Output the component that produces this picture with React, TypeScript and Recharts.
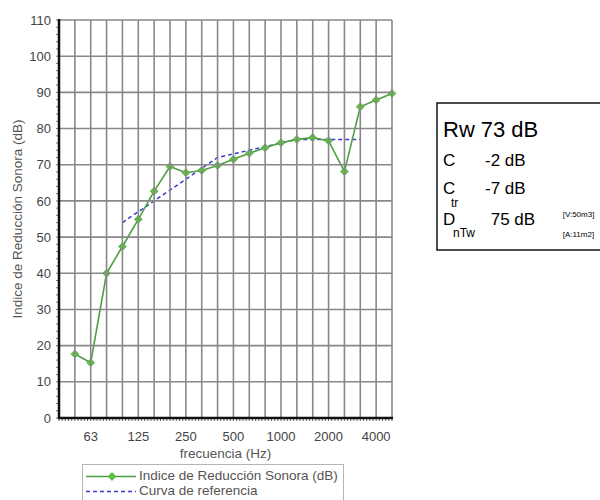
import { LineChart, Line, XAxis, YAxis } from "recharts";

// one-third octave bands, 50 Hz .. 5000 Hz
const frequencies = [
  "50", "63", "80", "100", "125", "160", "200", "250", "315", "400", "500",
  "630", "800", "1000", "1250", "1600", "2000", "2500", "3150", "4000", "5000",
];
const reduction = [
  17.7, 15.3, 40.0, 47.4, 54.9, 62.7, 69.5, 67.8, 68.4, 69.8, 71.5,
  73.2, 74.7, 76.1, 77.0, 77.5, 76.6, 68.1, 86.0, 87.9, 89.7,
];
const reference: (number | null)[] = [
  null, null, null, 54, 57, 60, 63, 66, 69, 72, 73,
  74, 75, 76, 77, 77, 77, 77, 77, null, null,
];
const xTickLabels: Record<number, string> = {
  1: "63", 4: "125", 7: "250", 10: "500", 13: "1000", 16: "2000", 19: "4000",
};

const data = frequencies.map((f, i) => ({ i, f, r: reduction[i], ref: reference[i] }));

const xMinor = Array.from({ length: 106 }, (_, k) => Math.round((-1 + k * 0.2) * 10) / 10);
const yMinor = Array.from({ length: 56 }, (_, k) => k * 2);

const W = 600;
const H = 500;
const M = { top: 20, right: 208, bottom: 40, left: 0 };
const Y_AXIS_W = 59;
const X_AXIS_H = 42;
const PLOT_LEFT = M.left + Y_AXIS_W;
const PLOT_RIGHT = W - M.right;
const PLOT_TOP = M.top;
const PLOT_BOTTOM = H - M.bottom - X_AXIS_H;

const FONT = "'Liberation Sans', Arial, sans-serif";
const GRID = "#888";
const GREEN_LINE = "#4e9e42";
const GREEN_DOT = "#5dc23e";
const BLUE = "#3b3bd0";

const Diamond = (props: any) => {
  const { cx, cy, index } = props;
  if (cx == null || cy == null) return <g key={index} />;
  const s = 4;
  return (
    <polygon
      key={index}
      points={`${cx},${cy - s} ${cx + s},${cy} ${cx},${cy + s} ${cx - s},${cy}`}
      fill={GREEN_DOT}
      stroke={GREEN_LINE}
      strokeWidth={0.6}
    />
  );
};

// x tick: vertical grid line on every band slot, label on octave bands
const XTick = (props: any) => {
  const { x, y, payload } = props;
  const v = payload.value;
  if (!Number.isInteger(v)) return <g />;
  const label = xTickLabels[v];
  return (
    <g>
      <line x1={x} y1={PLOT_TOP} x2={x} y2={PLOT_BOTTOM} stroke={GRID} strokeWidth={1.6} />
      {label && (
        <text x={x} y={y + 4} dy="0.71em" textAnchor="middle" fill="#444" fontSize={13} fontFamily={FONT}>
          {label}
        </text>
      )}
    </g>
  );
};

// y tick: horizontal grid line and label every 10 dB
const YTick = (props: any) => {
  const { x, y, payload } = props;
  const v = payload.value;
  if (v % 10 !== 0) return <g />;
  return (
    <g>
      <line x1={PLOT_LEFT} y1={y} x2={PLOT_RIGHT} y2={y} stroke={GRID} strokeWidth={1.6} />
      <text x={x} y={y} dy="0.355em" textAnchor="end" fill="#444" fontSize={13} fontFamily={FONT}>
        {v}
      </text>
    </g>
  );
};

const YTitle = (props: any) => {
  const vb = props.viewBox || {};
  const x = (vb.x ?? 0) + 17;
  const y = (vb.y ?? 0) + (vb.height ?? 0) / 2;
  return (
    <text
      x={x}
      y={y}
      transform={`rotate(-90 ${x} ${y})`}
      textAnchor="middle"
      dominantBaseline="central"
      fill="#555"
      fontSize={13.5}
      fontFamily={FONT}
    >
      Indice de Reducción Sonora (dB)
    </text>
  );
};

export default function App() {
  return (
    <div style={{ position: "absolute", left: 0, top: 0, width: W, height: H, background: "#fff", overflow: "hidden" }}>
      <LineChart width={W} height={H} data={data} margin={M}>
        <XAxis
          type="number"
          dataKey="i"
          domain={[-1, 20]}
          ticks={xMinor}
          interval={0}
          height={X_AXIS_H}
          tickSize={3}
          tickMargin={7}
          tickLine={{ stroke: "#666" }}
          axisLine={false}
          tick={<XTick />}
          label={{
            value: "frecuencia (Hz)",
            position: "insideBottom",
            offset: 2,
            style: { fill: "#555", fontSize: 13.5, fontFamily: FONT },
          }}
        />
        <YAxis
          type="number"
          domain={[0, 110]}
          ticks={yMinor}
          interval={0}
          width={Y_AXIS_W}
          tickSize={3}
          tickMargin={5}
          tickLine={{ stroke: "#777" }}
          axisLine={false}
          tick={<YTick />}
          label={<YTitle />}
        />
        <Line
          dataKey="ref"
          stroke={BLUE}
          strokeWidth={1.5}
          strokeDasharray="4 3"
          dot={false}
          isAnimationActive={false}
        />
        <Line
          dataKey="r"
          stroke={GREEN_LINE}
          strokeWidth={1.6}
          dot={<Diamond />}
          isAnimationActive={false}
        />
      </LineChart>

      {/* heavy left and bottom axis lines drawn on top of the grid */}
      <svg width={W} height={H} style={{ position: "absolute", left: 0, top: 0, pointerEvents: "none" }}>
        <polyline
          points={`${PLOT_LEFT},${PLOT_TOP - 1} ${PLOT_LEFT},${PLOT_BOTTOM} ${PLOT_RIGHT + 1},${PLOT_BOTTOM}`}
          fill="none"
          stroke="#111"
          strokeWidth={2.5}
        />
      </svg>

      {/* legend */}
      <div
        style={{
          position: "absolute",
          left: 82,
          top: 464,
          width: 262,
          height: 44,
          border: "1px solid #b5b5b5",
          boxSizing: "border-box",
          fontFamily: FONT,
          fontSize: 13.5,
          color: "#555",
        }}
      >
        <svg width={60} height={36} style={{ position: "absolute", left: 2, top: 2 }}>
          <line x1={1} y1={9.5} x2={51} y2={9.5} stroke={GREEN_LINE} strokeWidth={1.6} />
          <polygon points="27,5.5 31,9.5 27,13.5 23,9.5" fill={GREEN_DOT} stroke={GREEN_LINE} strokeWidth={0.6} />
          <line x1={1} y1={24.5} x2={51} y2={24.5} stroke={BLUE} strokeWidth={1.5} strokeDasharray="4 3" />
        </svg>
        <div style={{ position: "absolute", left: 56, top: 3, whiteSpace: "nowrap", lineHeight: "15px" }}>
          Indice de Reducción Sonora (dB)
        </div>
        <div style={{ position: "absolute", left: 56, top: 18, whiteSpace: "nowrap", lineHeight: "15px" }}>
          Curva de referencia
        </div>
      </div>

      {/* single-number ratings */}
      <svg width={170} height={152} style={{ position: "absolute", left: 436, top: 102 }} fontFamily={FONT}>
        <rect x={1} y={1} width={180} height={147} fill="#fff" stroke="#111" strokeWidth={1.5} />
        <text x={7} y={34.7} fontSize={22} fill="#000">Rw</text>
        <text x={44.7} y={34.7} fontSize={22} fill="#000">73 dB</text>
        <text x={7} y={63.7} fontSize={17} fill="#000">C</text>
        <text x={49} y={63.7} fontSize={17} fill="#000">-2 dB</text>
        <text x={7} y={92} fontSize={17} fill="#000">C</text>
        <text x={15} y={105.3} fontSize={12} fill="#000">tr</text>
        <text x={49} y={92} fontSize={17} fill="#000">-7 dB</text>
        <text x={7} y={123} fontSize={17} fill="#000">D</text>
        <text x={17} y={134.7} fontSize={12} fill="#000">nTw</text>
        <text x={54.7} y={123} fontSize={17} fill="#000">75 dB</text>
        <text x={126.7} y={114.7} fontSize={8} fill="#000">[V:50m3]</text>
        <text x={126.7} y={134.7} fontSize={8} fill="#000">[A:11m2]</text>
      </svg>
    </div>
  );
}
